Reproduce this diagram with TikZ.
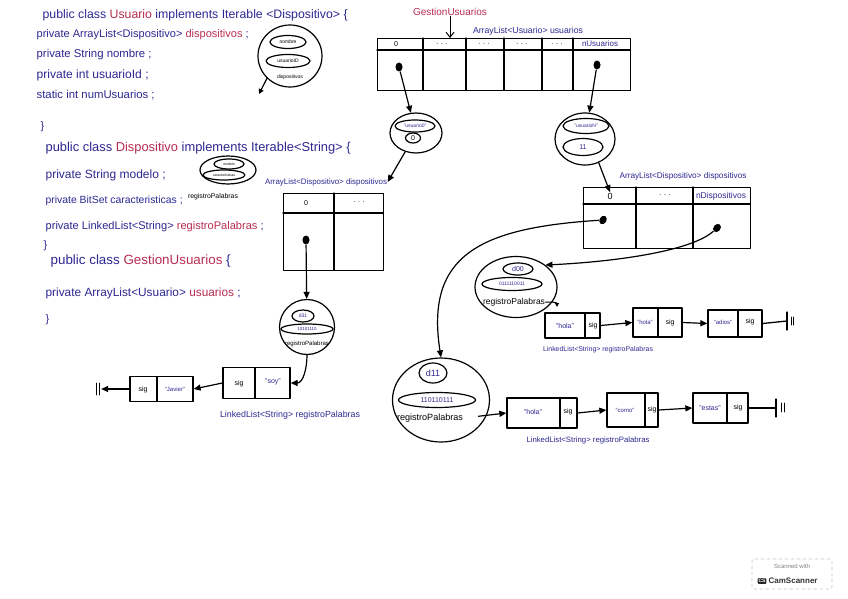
\documentclass[tikz,border=0pt]{standalone}
\usepackage{fontspec}
\setmainfont{Liberation Sans}
\usepackage{graphicx}
\usetikzlibrary{arrows.meta,shapes.geometric}
\definecolor{inkblue}{RGB}{45,40,145}
\definecolor{inkred}{RGB}{185,45,80}
\newcommand{\fitw}[2]{\resizebox{#1pt}{!}{#2}}
\begin{document}
\begin{tikzpicture}[x=1pt,y=-1pt,
  line width=1.3pt, line cap=round, line join=round,
  code/.style={anchor=west, inner sep=0pt, text=inkblue},
  lbl/.style={inner sep=0pt, text=inkblue},
  blk/.style={inner sep=0pt, text=black},
  oval/.style={ellipse, draw, line width=1.2pt, inner sep=0pt},
  ptr/.style={-{Triangle[length=7pt,width=6pt]}, line width=1.2pt},
  stick/.style={-{Straight Barb[length=5pt,width=8pt]}, line width=1pt},
  dotp/.style={ellipse, fill=black, minimum width=7pt, minimum height=9pt, inner sep=0pt},
  box/.style={draw, line width=1.3pt, inner sep=0pt, anchor=north west},
  lnode/.style={draw, line width=1.3pt, inner sep=0pt},
  tiny/.style={font=\fontsize{5}{6}\selectfont},
  small/.style={font=\fontsize{7}{8}\selectfont},
]
\useasboundingbox (0,0) rectangle (848,599);
\fill[white] (0,0) rectangle (848,599);

% ---------------- code text ----------------
\node[code] (l1) at (42,15) {\fitw{305}{public class \textcolor{inkred}{Usuario} implements Iterable <Dispositivo> \{}};
\node[code] (l2) at (36,35) {\fitw{212}{private ArrayList<Dispositivo> \textcolor{inkred}{dispositivos} ;}};
\node[code] (l3) at (36,55) {\fitw{115}{private String nombre ;}};
\node[code] (l4) at (36,75) {\fitw{112}{private int usuarioId ;}};
\node[code] (l5) at (36,95) {\fitw{118}{static int numUsuarios ;}};
\node[code, font=\fontsize{11}{12}\selectfont] (l6) at (40,127) {\}};
\node[code] (l7) at (45,148) {\fitw{305}{public class \textcolor{inkred}{Dispositivo} implements Iterable<String> \{}};
\node[code] (l8) at (45,175) {\fitw{120}{private String modelo ;}};
\node[code] (l9) at (45,201) {\fitw{137}{private BitSet caracteristicas ;}};
\node[blk] (l9b) at (213,197) {\fitw{50}{registroPalabras}};
\node[code] (l10) at (45,227) {\fitw{218}{private LinkedList<String> \textcolor{inkred}{registroPalabras} ;}};
\node[code, font=\fontsize{11}{12}\selectfont] (l11) at (43,246) {\}};
\node[code] (l12) at (50,261) {\fitw{180}{public class \textcolor{inkred}{GestionUsuarios} \{}};
\node[code] (l13) at (45,293) {\fitw{195}{private ArrayList<Usuario> \textcolor{inkred}{usuarios} ;}};
\node[code, font=\fontsize{11}{12}\selectfont] (l14) at (45,320) {\}};

% ---------------- object sketches beside the code ----------------
\node[oval, minimum width=64pt, minimum height=62pt] (c0) at (290,56) {};
\node[oval, minimum width=36pt, minimum height=13pt, tiny] (c0a) at (288,42) {nombre};
\node[oval, minimum width=44pt, minimum height=13pt, tiny] (c0b) at (288,61) {usuarioID};
\node[blk, tiny] (c0c) at (290,77) {dispositivos};
\coordinate (c0end) at (259,94);
\draw[ptr, -{Triangle[length=5pt,width=5pt]}] (c0.south west) -- (c0end);

\node[oval, minimum width=56pt, minimum height=28pt] (c1) at (228,170) {};
\node[oval, minimum width=30pt, minimum height=10pt, font=\fontsize{3.5}{4}\selectfont] (c1a) at (229,164) {modelo};
\node[oval, minimum width=42pt, minimum height=10pt, font=\fontsize{3.5}{4}\selectfont] (c1b) at (224,175) {caracteristicas};

% ---------------- GestionUsuarios array ----------------
\node[lbl, text=inkred] (gu) at (450,12) {\fitw{74}{GestionUsuarios}};
\coordinate (a1t) at (450,38);
\draw[stick] (gu) -- (a1t);
\node[lbl] (a1lbl) at (528,31) {\fitw{110}{ArrayList<Usuario> usuarios}};
\node[box, minimum width=253pt, minimum height=52pt] (arr1) at (377,38) {};
\draw (377,50) -- (630,50);
\foreach \cx in {423,466,504,542,573} \draw (\cx,38) -- (\cx,90);
\node[blk, small] (h10) at (396,44) {0};
\node[blk, small] (h11) at (442,44) {. . .};
\node[blk, small] (h12) at (484,44) {. . .};
\node[blk, small] (h13) at (522,44) {. . .};
\node[blk, small] (h14) at (557,44) {. . .};
\node[lbl] (h15) at (600,44) {\fitw{36}{nUsuarios}};
\node[dotp] (p1) at (399,67) {};
\node[dotp] (p2) at (597,65) {};

% Usuario objects
\node[oval, minimum width=52pt, minimum height=40pt] (u0) at (416,133) {};
\node[oval, minimum width=40pt, minimum height=12pt, tiny, text=inkblue] (u0a) at (415,126) {"usuario0"};
\node[oval, minimum width=15pt, minimum height=10pt, small] (u0b) at (413,138) {0};
\draw[ptr] (p1) -- (u0);

\node[oval, minimum width=60pt, minimum height=52pt] (uN) at (585,139) {};
\node[oval, minimum width=46pt, minimum height=15pt, tiny, text=inkblue] (uNa) at (586,126) {"usuarioN"};
\node[oval, minimum width=40pt, minimum height=17pt, small, text=inkblue] (uNb) at (583,147) {11};
\draw[ptr] (p2) -- (uN);

% ---------------- dispositivos of usuario0 ----------------
\node[lbl] (a3lbl) at (326,182) {\fitw{122}{ArrayList<Dispositivo> dispositivos}};
\draw[ptr] (u0.240) -- (a3lbl.east);
\node[box, minimum width=100pt, minimum height=77pt] (arr3) at (283,193) {};
\draw (283,213) -- (383,213);
\draw (334,193) -- (334,270);
\node[blk, small] (h30) at (306,203) {0};
\node[blk, small] (h31) at (359,202) {. . .};
\node[dotp] (r0) at (306,240) {};

\node[oval, minimum width=55pt, minimum height=55pt] (d3) at (307,327) {};
\node[oval, minimum width=22pt, minimum height=12pt, tiny, text=inkblue] (d3a) at (303,316) {d31};
\node[oval, minimum width=52pt, minimum height=10pt, font=\fontsize{4.5}{5}\selectfont, text=inkblue] (d3b) at (307,329) {10101110};
\node[blk] (d3c) at (307,344) {\fitw{44}{registroPalabras}};
\draw[ptr] (r0) -- (d3);

\node[lnode, minimum width=67pt, minimum height=31pt] (nx) at (256.5,383) {};
\draw (255,367.5) -- (255,398.5);
\node[blk, small] (nxs) at (239,384) {sig};
\node[lbl, small] (nxv) at (273,382) {"soy"};
\node[lnode, minimum width=63pt, minimum height=25pt] (ny) at (161.5,389) {};
\draw (157,376.5) -- (157,401.5);
\node[blk, small] (nys) at (143,390) {sig};
\node[lbl, font=\fontsize{6}{7}\selectfont] (nyv) at (175,389) {"Javier"};
\node[inner sep=0pt, minimum width=5pt, minimum height=12pt] (nul1) at (98,389) {};
\draw[line width=0.8pt] (96,383) -- (96,395) (99.5,383) -- (99.5,395);
\draw[ptr] (d3.south) to[out=-90, in=0] (nx.east);
\draw[ptr] (nx.west) -- (ny.east);
\draw[ptr] (ny.west) -- (nul1.east);
\node[lbl] (lxl) at (290,415) {\fitw{140}{LinkedList<String> registroPalabras}};

% ---------------- dispositivos of usuarioN ----------------
\node[lbl] (a2lbl) at (683,176) {\fitw{127}{ArrayList<Dispositivo> dispositivos}};
\node[box, minimum width=167pt, minimum height=61pt] (arr2) at (583,187) {};
\draw (583,204) -- (750,204);
\draw (636,187) -- (636,248) (693,187) -- (693,248);
\node[blk, font=\fontsize{9}{10}\selectfont] (h20) at (610,196) {0};
\node[blk, small] (h21) at (665,195) {. . .};
\node[lbl] (h22) at (721,196) {\fitw{50}{nDispositivos}};
\node[dotp, rotate=-30] (q0) at (603,220) {};
\node[dotp, rotate=-40] (qN) at (717,228) {};
\draw[ptr] (uN.300) -- (h20.north);

% device d00
\node[oval, minimum width=82pt, minimum height=61pt] (d0) at (516,287) {};
\node[oval, minimum width=30pt, minimum height=12pt, small, text=inkblue] (d0a) at (518,269) {d00};
\node[oval, minimum width=60pt, minimum height=13pt, font=\fontsize{5}{6}\selectfont, text=inkblue] (d0b) at (512,284) {0111110011};
\node[blk] (d0c) at (514,302) {\fitw{62}{registroPalabras}};
\draw[ptr] (qN) .. controls (690,252) and (610,262) .. (d0.north east);
\coordinate (n1p) at (557,307);
\draw[-{Triangle[length=4pt,width=4pt]}, line width=1pt] (d0c.east) to[out=0, in=90] (n1p);

\node[lnode, minimum width=55pt, minimum height=25pt] (n1) at (572.5,325.5) {};
\draw (585,313) -- (585,338);
\node[lbl, small] (n1v) at (565,326) {"hola"};
\node[blk, small] (n1s) at (593,326) {sig};
\node[lnode, minimum width=49pt, minimum height=29pt] (n2) at (657.5,322.5) {};
\draw (658,308) -- (658,337);
\node[lbl, font=\fontsize{6}{7}\selectfont] (n2v) at (645,322) {"hola"};
\node[blk, small] (n2s) at (670,323) {sig};
\node[lnode, minimum width=54pt, minimum height=27pt] (n3) at (735,323.5) {};
\draw (738,310) -- (738,337);
\node[lbl, font=\fontsize{6}{7}\selectfont] (n3v) at (723,322) {"adios"};
\node[blk, small] (n3s) at (750,322) {sig};
\node[inner sep=0pt, minimum width=2pt, minimum height=18pt] (nul2) at (787,321) {};
\draw (787,312) -- (787,330);
\draw[line width=0.6pt] (791,317) -- (791,325) (793.5,317) -- (793.5,325);
\draw[ptr] (n1.east) -- (n2.west);
\draw[ptr] (n2.east) -- (n3.west);
\draw (n3.east) -- (nul2.center);
\node[lbl] (l1l) at (598,350) {\fitw{110}{LinkedList<String> registroPalabras}};

% device d11
\node[oval, minimum width=97pt, minimum height=84pt] (d11) at (441,400) {};
\node[oval, minimum width=28pt, minimum height=20pt, font=\fontsize{9}{10}\selectfont, text=inkblue] (d11a) at (433,373) {d11};
\node[oval, minimum width=77pt, minimum height=15pt, font=\fontsize{7}{8}\selectfont, text=inkblue] (d11b) at (437,400) {110110111};
\node[blk] (d11c) at (430,418) {\fitw{66}{registroPalabras}};
\draw[ptr] (q0) .. controls (480,228) and (425,255) .. (d11.north);

\node[lnode, minimum width=70pt, minimum height=30pt] (na) at (542,413) {};
\draw (560,398) -- (560,428);
\node[lbl, small] (nav) at (533,412) {"hola"};
\node[blk, small] (nas) at (568,412) {sig};
\node[lnode, minimum width=51pt, minimum height=34pt] (nb) at (632.5,410) {};
\draw (645,393) -- (645,427);
\node[lbl, font=\fontsize{6}{7}\selectfont] (nbv) at (625,410) {"como"};
\node[blk, small] (nbs) at (652,410) {sig};
\node[lnode, minimum width=55pt, minimum height=30pt] (nc) at (720.5,408) {};
\draw (727,393) -- (727,423);
\node[lbl, small] (ncv) at (710,408) {"estas"};
\node[blk, small] (ncs) at (738,408) {sig};
\node[inner sep=0pt, minimum width=2pt, minimum height=18pt] (nul3) at (776,408) {};
\draw (776,399) -- (776,417);
\draw[line width=0.6pt] (781,403) -- (781,412) (784,403) -- (784,412);
\draw[ptr, shorten <=15pt] (d11c.east) -- (na.west);
\draw[ptr] (na.east) -- (nb.west);
\draw[ptr] (nb.east) -- (nc.west);
\draw (nc.east) -- (nul3.center);
\node[lbl] (l2l) at (588,440) {\fitw{123}{LinkedList<String> registroPalabras}};

% ---------------- scanner mark ----------------
\node[draw=gray!45, dashed, line width=0.6pt, rounded corners=2pt, minimum width=80pt, minimum height=30pt] (wm) at (792,574) {};
\node[inner sep=0pt, text=gray, font=\fontsize{6}{7}\selectfont] (wm1) at (792,566) {Scanned with};
\node[fill=black!85, rounded corners=1pt, inner sep=1pt, text=white, font=\bfseries\fontsize{5}{6}\selectfont] (wm2) at (762,581) {CS};
\node[inner sep=0pt, text=black!80, font=\bfseries\fontsize{8}{9}\selectfont, anchor=west] (wm3) at (768,581) {CamScanner};
\end{tikzpicture}
\end{document}
